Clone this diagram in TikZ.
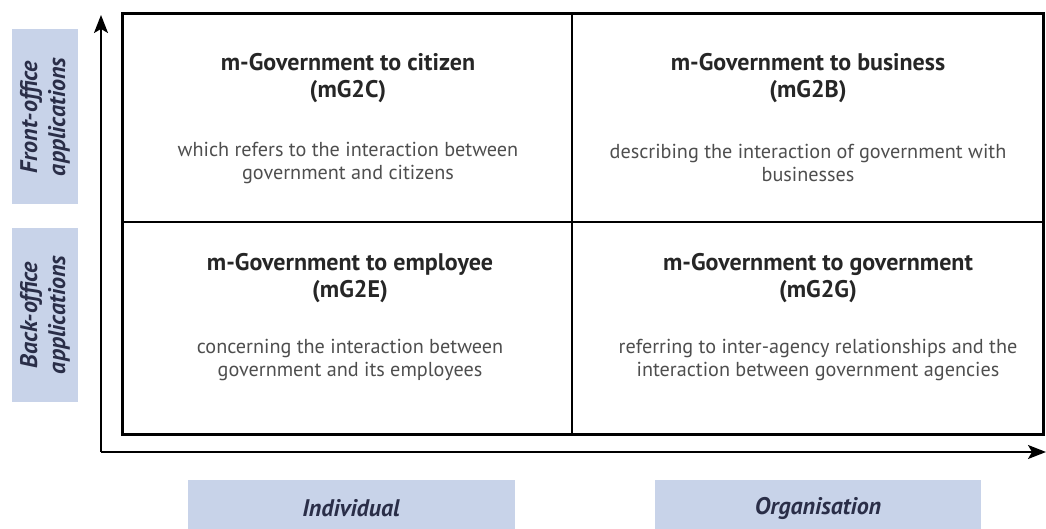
\documentclass[tikz,border=0pt]{standalone}
\usepackage{fontspec}
\setmainfont{PT Sans}
\usetikzlibrary{arrows.meta,positioning}
\definecolor{boxblue}{HTML}{C8D3E9}
\definecolor{labelnavy}{HTML}{2A2E48}
\definecolor{bodygray}{HTML}{4E4E4E}

\begin{document}
\begin{tikzpicture}[x=0.5pt,y=-0.5pt,
      cell/.style = {
        draw,
        line width=0.8pt,
        inner sep=0pt
      },
      title/.style = {
        align=center,
        text=black!85,
        font=\bfseries\fontsize{12}{13.5}\selectfont
      },
      body/.style = {
        align=center,
        text=bodygray,
        font=\fontsize{10.1}{11.2}\selectfont
      },
      sidebox/.style = {
        fill=boxblue,
        align=center,
        text=labelnavy,
        inner sep=0pt,
        font=\bfseries\itshape\fontsize{12}{14}\selectfont
      },
      axis/.style = {
        line width=0.8pt,
        -{Stealth[length=9pt,width=7pt,inset=2pt]}
      }
    ]
    \useasboundingbox (0,0) rectangle (1046,529);

    % the four cells
    \node[cell, minimum width=224.5pt, minimum height=104pt] (c2c) at (347.5,118) {};
    \node[cell, minimum width=235.5pt, minimum height=104pt] (c2b) at (807.5,118) {};
    \node[cell, minimum width=224.5pt, minimum height=106pt] (c2e) at (347.5,328) {};
    \node[cell, minimum width=235.5pt, minimum height=106pt] (c2g) at (807.5,328) {};
    \draw[line width=1.4pt] (c2c.north west) rectangle (c2g.south east);

    % cell texts
    \node[title] (t2c) at (348,78) {m-Government to citizen\\(mG2C)};
    \node[body] (b2c) at (348,163) {which refers to the interaction between\\government and citizens};
    \node[title] (t2b) at (808,78) {m-Government to business\\(mG2B)};
    \node[body] (b2b) at (808,163) {describing the interaction of government with\\businesses};
    \node[title] (t2e) at (350,278) {m-Government to employee\\(mG2E)};
    \node[body] (b2e) at (350,360) {concerning the interaction between\\government and its employees};
    \node[title] (t2g) at (818,278) {m-Government to government\\(mG2G)};
    \node[body] (b2g) at (818,360) {referring to inter-agency relationships and the\\interaction between government agencies};

    % axes
    \coordinate (origin) at (101,452);
    \coordinate (ytip) at (101,15);
    \coordinate (xtip) at (1046,452);
    \draw[axis] (origin) -- (ytip);
    \draw[axis] (origin) -- (xtip);

    % axis labels
    \node[sidebox, rotate=90, minimum width=87.5pt, minimum height=33pt] (front) at (45,117) {Front-office\\applications};
    \node[sidebox, rotate=90, minimum width=87pt, minimum height=33pt] (back) at (45,315) {Back-office\\applications};
    \node[sidebox, minimum width=163.5pt, minimum height=28pt] (indiv) at (351,508) {Individual};
    \node[sidebox, minimum width=163pt, minimum height=28pt] (orga) at (818,508) {Organisation};
  \end{tikzpicture}
\end{document}
